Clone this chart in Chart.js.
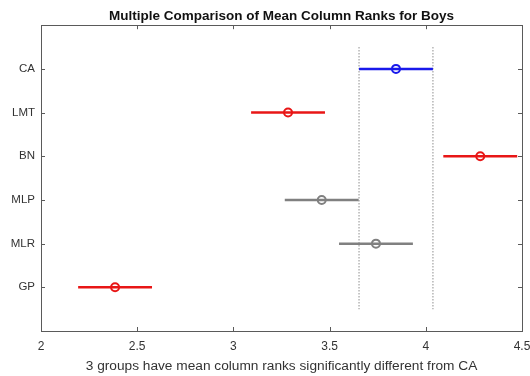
<!DOCTYPE html>
<html>
<head>
<meta charset="utf-8">
<script src="https://cdn.jsdelivr.net/npm/chart.js@4/dist/chart.umd.min.js"></script>
<style>
  html, body { margin: 0; padding: 0; background: #fff; }
  #wrap { width: 530px; height: 376px; }
</style>
</head>
<body>
<div id="wrap"><canvas id="c" width="530" height="376"></canvas></div>
<script>
// Groups, top to bottom
const groups = ['CA', 'LMT', 'BN', 'MLP', 'MLR', 'GP'];
// Estimated mean column ranks and comparison intervals
const means  = [3.845, 3.284, 4.283, 3.459, 3.741, 2.385];
const lower  = [3.653, 3.092, 4.091, 3.267, 3.549, 2.193];
const upper  = [4.037, 3.476, 4.475, 3.651, 3.933, 2.577];
// x axis tick values
const xTicks = [2, 2.5, 3, 3.5, 4, 4.5];

const BLUE = 'rgb(25,25,235)';
const RED = 'rgb(232,22,22)';
const GRAY = 'rgb(128,128,128)';
const groupColors = [BLUE, RED, RED, GRAY, GRAY, RED];
const FONT = 'Arial, "Liberation Sans", sans-serif';

const datasets = [];
// Dotted reference lines at the CA interval ends
[lower[0], upper[0]].forEach(v => {
  datasets.push({
    type: 'line',
    data: [{x: v, y: 0.5}, {x: v, y: 6.5}],
    borderColor: 'rgb(180,180,180)',
    borderWidth: 1.5,
    borderDash: [1.5, 1.5],
    pointRadius: 0,
    order: 3
  });
});
// Interval bars
groups.forEach((g, i) => {
  datasets.push({
    type: 'line',
    label: g,
    data: [{x: lower[i], y: i + 1}, {x: upper[i], y: i + 1}],
    borderColor: groupColors[i],
    borderWidth: 2.5,
    pointRadius: 0,
    order: 2
  });
});
// Mean markers
datasets.push({
  type: 'scatter',
  data: groups.map((g, i) => ({x: means[i], y: i + 1})),
  pointRadius: 4,
  pointBorderWidth: 2,
  pointBackgroundColor: 'rgba(255,255,255,0)',
  pointBorderColor: groupColors,
  order: 1
});

// Box around the plot area with inward ticks on all sides
const boxPlugin = {
  id: 'box',
  afterDraw(chart) {
    const {ctx, chartArea: a, scales: {x, y}} = chart;
    ctx.save();
    ctx.strokeStyle = 'rgb(90,90,90)';
    ctx.lineWidth = 1;
    ctx.strokeRect(Math.round(a.left) + 0.5, Math.round(a.top) + 0.5,
                   Math.round(a.right - a.left), Math.round(a.bottom - a.top));
    const tl = 4;
    ctx.beginPath();
    xTicks.slice(1, -1).forEach(v => {
      const px = Math.round(x.getPixelForValue(v)) + 0.5;
      ctx.moveTo(px, a.bottom); ctx.lineTo(px, a.bottom - tl);
      ctx.moveTo(px, a.top); ctx.lineTo(px, a.top + tl);
    });
    groups.forEach((g, i) => {
      const py = Math.round(y.getPixelForValue(i + 1)) + 0.5;
      ctx.moveTo(a.left, py); ctx.lineTo(a.left + tl, py);
      ctx.moveTo(a.right, py); ctx.lineTo(a.right - tl, py);
    });
    ctx.stroke();
    ctx.restore();
  }
};

new Chart(document.getElementById('c'), {
  data: { datasets },
  options: {
    responsive: false,
    animation: false,
    layout: { padding: { left: 0, right: 8, top: 0, bottom: 0 } },
    plugins: {
      legend: { display: false },
      tooltip: { enabled: false },
      title: {
        display: true,
        fullSize: false,
        text: 'Multiple Comparison of Mean Column Ranks for Boys',
        color: '#111',
        font: { family: FONT, size: 13.5, weight: 'bold' },
        padding: { top: 8, bottom: 1 }
      }
    },
    scales: {
      x: {
        type: 'linear',
        min: 2, max: 4.5,
        afterBuildTicks(s) { s.ticks = xTicks.map(v => ({value: v})); },
        grid: { display: false, drawTicks: false },
        border: { display: false },
        ticks: {
          color: '#333',
          font: { family: FONT, size: 12 },
          padding: 8,
          maxRotation: 0,
          autoSkip: false,
          callback: v => String(v)
        },
        title: {
          display: true,
          text: '3 groups have mean column ranks significantly different from CA',
          color: '#333',
          font: { family: FONT, size: 13.7 },
          padding: { top: 0, bottom: 2 }
        },
        afterFit(s) { s.height = 45; s.paddingLeft = 0; s.paddingRight = 0; }
      },
      y: {
        type: 'linear',
        min: 0, max: 7,
        reverse: true,
        afterBuildTicks(s) { s.ticks = groups.map((g, i) => ({value: i + 1})); },
        grid: { display: false, drawTicks: false },
        border: { display: false },
        ticks: {
          color: '#333',
          font: { family: FONT, size: 11.5 },
          padding: 6,
          autoSkip: false,
          callback: v => groups[v - 1] || ''
        },
        afterFit(s) { s.width = 41; }
      }
    }
  },
  plugins: [boxPlugin]
});
</script>
</body>
</html>
